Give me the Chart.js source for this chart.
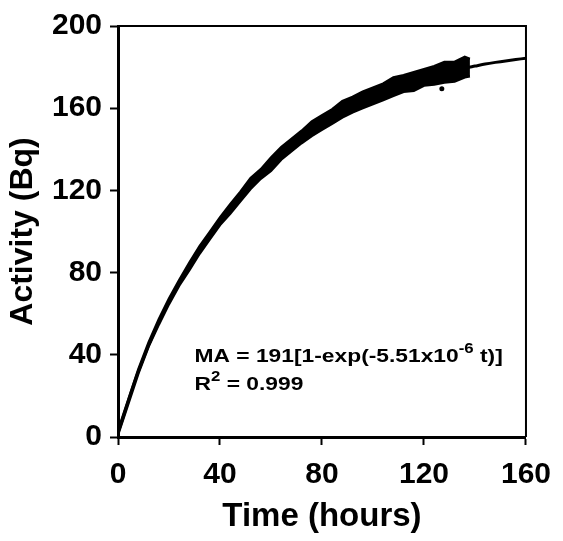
<!DOCTYPE html>
<html>
<head>
<meta charset="utf-8">
<script src="https://cdn.jsdelivr.net/npm/chart.js@4.4.1/dist/chart.umd.min.js"></script>
<style>
  html, body { margin: 0; padding: 0; background: #fff; }
  #chart { display: block; }
</style>
</head>
<body>
<canvas id="chart" width="563" height="541"></canvas>
<script>
// ----------------------------------------------------------
// values (hours / Bq)
const bandTime = [0, 4, 8, 12, 16, 20, 24, 28, 32, 36, 40, 44, 48, 52, 56, 60, 64, 68,
  72, 76, 80, 84, 88, 92, 96, 100, 104, 108, 112, 116, 120, 124, 128, 132, 136, 138];
const bandUpper = [3, 18, 33, 46, 57.3, 67.3, 76.3, 84.8, 92.8, 99.8, 106.8, 113.3, 119.3, 126,
  130.3, 136, 141, 145, 149, 153.5, 156.5, 159.5, 163.5, 165.5, 168, 170, 172, 175,
  176, 177.5, 179, 180.5, 182.5, 182.5, 185, 184];
const bandLower = [1, 16, 31, 44, 54.7, 64.7, 73.7, 81.2, 89.2, 96.2, 103.2, 108.7, 114.7, 120.7,
  125.7, 129.5, 135, 139, 143, 146.5, 149.5, 152.5, 155.5, 158, 160, 162, 164, 166,
  168, 168.5, 171, 171.5, 172.5, 173, 175, 175.5];
const fitTime = [0, 8, 16, 24, 32, 40, 48, 56, 64, 72, 80, 88, 96, 104, 112, 120, 128, 136,
  140, 144, 148, 152, 156, 160];
const fitValues = [2, 32, 56, 75, 91, 105, 117, 128, 138, 146, 153, 159, 164, 168, 172, 175,
  177, 179.5, 180.5, 181.5, 182.3, 183, 183.7, 184.3];
const strayTime = [127];
const strayValue = [169.5];
const xTicks = [0, 40, 80, 120, 160];
const yTicks = [0, 40, 80, 120, 160, 200];
const noteLine1 = ["MA = 191[1-exp(-5.51x10", "-6", " t)]"];
const noteLine2 = ["R", "2", " = 0.999"];

// ----------------------------------------------------------
const toPoints = (xs, ys) => xs.map((x, i) => ({ x: x, y: ys[i] }));
const FONT = "'Liberation Sans', Arial, sans-serif";

// ----------------------------------------------------------
// top and right sides of the frame
const framePlugin = {
  id: "frame",
  afterDatasetsDraw(chart) {
    const { ctx, chartArea } = chart;
    ctx.save();
    ctx.strokeStyle = "#000";
    ctx.lineWidth = 2;
    ctx.beginPath();
    ctx.moveTo(chartArea.left, chartArea.top);
    ctx.lineTo(chartArea.right, chartArea.top);
    ctx.lineTo(chartArea.right, chartArea.bottom);
    ctx.stroke();
    ctx.restore();
  },
};

// ----------------------------------------------------------
// fit equation text, with superscripts
function drawNoteLine(ctx, parts, x, y) {
  ctx.save();
  ctx.translate(x, y);
  ctx.scale(1.2, 1);
  let pos = 0;
  parts.forEach((part, i) => {
    const isSup = i === 1;
    ctx.font = isSup ? "bold 14px " + FONT : "bold 19px " + FONT;
    ctx.fillText(part, pos, isSup ? -9 : 0);
    pos += ctx.measureText(part).width;
  });
  ctx.restore();
}

const notePlugin = {
  id: "fitNote",
  afterDatasetsDraw(chart) {
    const ctx = chart.ctx;
    const xs = chart.scales.x;
    const ys = chart.scales.y;
    ctx.save();
    ctx.fillStyle = "#000";
    ctx.textBaseline = "alphabetic";
    const left = xs.getPixelForValue(30);
    drawNoteLine(ctx, noteLine1, left, ys.getPixelForValue(36.4));
    drawNoteLine(ctx, noteLine2, left, ys.getPixelForValue(22.8));
    ctx.restore();
  },
};

// ----------------------------------------------------------
const ctx = document.getElementById("chart").getContext("2d");
const theChart = new Chart(ctx, {
  type: "line",
  data: {
    datasets: [
      {
        // lower edge of the measured band
        data: toPoints(bandTime, bandLower),
        borderColor: "#000",
        borderWidth: 2.5,
        pointRadius: 0,
        fill: false,
        tension: 0,
      },
      {
        // upper edge, filled down to the lower edge
        data: toPoints(bandTime, bandUpper),
        borderColor: "#000",
        backgroundColor: "#000",
        borderWidth: 2.5,
        pointRadius: 0,
        fill: "-1",
        tension: 0,
      },
      {
        // fitted curve
        data: toPoints(fitTime, fitValues),
        borderColor: "#000",
        borderWidth: 3,
        pointRadius: 0,
        fill: false,
        tension: 0.3,
      },
      {
        type: "scatter",
        data: toPoints(strayTime, strayValue),
        backgroundColor: "#000",
        borderWidth: 0,
        pointRadius: 2.5,
      },
    ],
  },
  options: {
    responsive: false,
    animation: false,
    events: [],
    layout: { padding: { top: 25, right: 30, left: 0, bottom: 0 } },
    plugins: { legend: { display: false }, tooltip: { enabled: false } },
    scales: {
      x: {
        type: "linear",
        min: 0,
        max: 160,
        afterBuildTicks: (scale) => {
          scale.ticks = xTicks.map((v) => ({ value: v }));
        },
        afterFit: (scale) => {
          scale.height = 104;
        },
        grid: { drawOnChartArea: false, drawTicks: true, tickLength: 8, tickWidth: 2, tickColor: "#000" },
        border: { display: true, color: "#000", width: 3 },
        ticks: { color: "#000", padding: 12, maxRotation: 0, font: { family: FONT, size: 30, weight: "bold" } },
        title: {
          display: true,
          text: "Time (hours)",
          color: "#000",
          padding: { top: 0, bottom: 4 },
          font: { family: FONT, size: 33, weight: "bold" },
        },
      },
      y: {
        type: "linear",
        min: 0,
        max: 200,
        afterBuildTicks: (scale) => {
          scale.ticks = yTicks.map((v) => ({ value: v }));
        },
        afterFit: (scale) => {
          scale.width = 118;
        },
        grid: { drawOnChartArea: false, drawTicks: true, tickLength: 8, tickWidth: 2, tickColor: "#000" },
        border: { display: true, color: "#000", width: 3 },
        ticks: { color: "#000", padding: 8, font: { family: FONT, size: 30, weight: "bold" } },
        title: {
          display: true,
          text: "Activity (Bq)",
          color: "#000",
          padding: { top: 4, bottom: 0 },
          font: { family: FONT, size: 32, weight: "bold" },
        },
      },
    },
  },
  plugins: [framePlugin, notePlugin],
});
</script>
</body>
</html>
